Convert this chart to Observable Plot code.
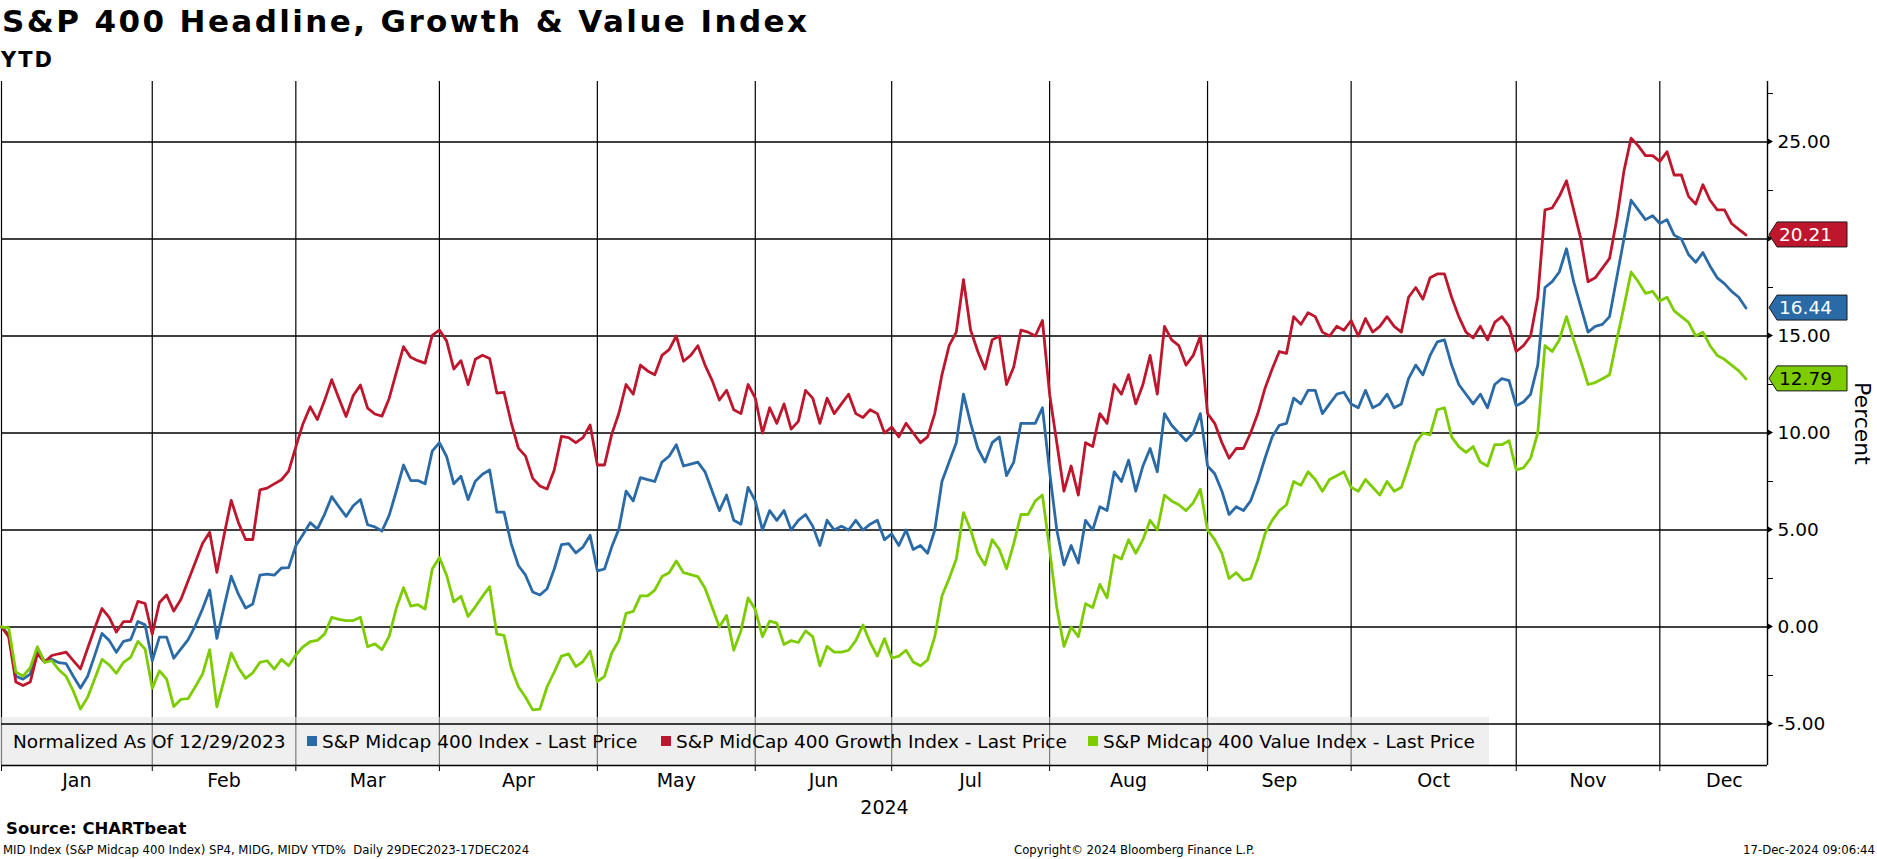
<!DOCTYPE html>
<html><head><meta charset="utf-8">
<script src="https://cdn.jsdelivr.net/npm/d3@7"></script>
<script src="https://cdn.jsdelivr.net/npm/@observablehq/plot@0.6"></script>
<style>
html,body{margin:0;padding:0;background:#fff;}
#chart{position:relative;width:1877px;height:859px;overflow:hidden;font-family:"DejaVu Sans",sans-serif;color:#000;}
.abs{position:absolute;white-space:nowrap;}
.foot{font-size:13px;line-height:13px;top:843px;font-family:"DejaVu Sans Condensed","DejaVu Sans",sans-serif;font-stretch:condensed;}
#plot{position:absolute;left:0;top:60px;}
</style></head><body>
<div id="chart">
  <div class="abs" style="left:2px;top:6px;font-size:31px;font-weight:bold;letter-spacing:2.4px;line-height:31px;">S&amp;P 400 Headline, Growth &amp; Value Index</div>
  <div class="abs" style="left:1px;top:50px;font-size:21px;font-weight:bold;letter-spacing:2px;line-height:21px;">YTD</div>
  <div class="abs" style="left:6px;top:821px;font-size:16.5px;font-weight:bold;line-height:16.5px;">Source: CHARTbeat</div>
  <div class="abs foot" style="left:3px;">MID Index (S&amp;P Midcap 400 Index) SP4, MIDG, MIDV YTD%&nbsp; Daily 29DEC2023-17DEC2024</div>
  <div class="abs foot" style="left:1014px;">Copyright© 2024 Bloomberg Finance L.P.</div>
  <div class="abs foot" style="right:2px;">17-Dec-2024 09:06:44</div>
  <div id="plot"></div>
</div>
<script>
// ---------------- data ----------------
const startDate = "2023-12-29";
const endDate = "2024-12-17";
const holidays = ["2024-01-01","2024-01-15","2024-02-19","2024-03-29","2024-05-27","2024-06-19","2024-07-04","2024-09-02","2024-11-28"];

const seriesNames = ["S&P Midcap 400 Index - Last Price", "S&P MidCap 400 Growth Index - Last Price", "S&P Midcap 400 Value Index - Last Price"];
const seriesColors = ["#2a6aa6", "#be162d", "#7dcc00"];
const tagTextColors = ["#ffffff", "#ffffff", "#000000"];
const legendNote = "Normalized As Of 12/29/2023";

const headline = [
  0, -0.4, -2.54, -2.69, -2.43, -1.13, -1.78, -1.67, -1.84, -1.89, -2.54, -3.15, -2.54, -1.45, -0.33, -0.69, -1.30, -0.74, -0.65, 0.28,
  0.11, -1.74, -0.52, -0.52, -1.61, -1.13, -0.65, 0.07, 0.93, 1.91, -0.59, 1.04, 2.62, 1.69, 0.98, 1.19, 2.67, 2.73, 2.67, 3.04,
  3.06, 4.19, 4.77, 5.38, 5.05, 5.81, 6.72, 6.20, 5.70, 6.25, 6.57, 5.27, 5.16, 4.95, 5.75, 7.01, 8.35, 7.55, 7.55, 7.38,
  9.07, 9.50, 8.79, 7.38, 7.77, 6.57, 7.51, 7.87, 8.09, 5.92, 5.92, 4.30, 3.17, 2.67, 1.80, 1.65, 1.97, 2.99, 4.25, 4.30,
  3.82, 4.12, 4.73, 2.89, 2.99, 4.12, 5.05,
  7.0, 6.5, 7.7, 7.6, 7.5, 8.5, 8.8, 9.4, 8.3, 8.4, 8.5, 8.0, 7.0, 6.0, 6.8, 5.5, 5.3, 7.2, 6.5, 5.0,
  6.0, 5.5, 6.0, 5.0, 5.5, 5.8, 5.2, 4.2, 5.5, 5.0, 5.2, 5.0, 5.5, 5.0, 5.3, 5.5, 4.5, 4.8, 4.2, 5.0,
  4.0, 4.2, 3.8, 5.0, 7.5, 8.5, 9.5, 12.0, 10.5, 9.2, 8.5, 9.5, 9.8, 7.8, 8.5, 10.5, 10.5, 10.5, 11.3,
  8.0, 5.0, 3.2, 4.2, 3.3, 5.5, 5.0, 6.2, 6.0, 8.0, 7.5, 8.6, 7.0, 8.3, 9.2, 8.0, 11.0, 10.4, 10.0, 9.6,
  10.0, 11.0, 8.3, 7.9, 7.0, 5.8, 6.2, 6.0, 6.5, 7.5, 8.7, 9.8, 10.4, 10.5, 11.8, 11.5, 12.2, 12.2, 11.0, 11.5,
  12.0, 12.1, 11.5, 11.3, 12.2, 11.3, 11.5, 12.0, 11.3, 11.5, 12.8, 13.5, 13.0, 14.0, 14.7, 14.8, 13.5, 12.5, 12.0, 11.5,
  12.0, 11.3, 12.5, 12.8, 12.7, 11.4, 11.6, 12.0, 13.5, 17.5, 17.8, 18.3, 19.5, 17.8, 16.5, 15.2, 15.5, 15.6, 16.0, 18.0,
  20.0, 22.0, 21.5, 21.0, 21.2, 20.8, 21.0, 20.2, 20.0, 19.2, 18.8, 19.3, 18.6, 18.0, 17.7, 17.3, 17.0, 16.44
];
const growth = [
  0, -0.5, -2.84, -3.02, -2.84, -1.38, -1.81, -1.47, -1.38, -1.30, -1.73, -2.16, -1.1, -0.05, 0.95, 0.50, -0.26, 0.28, 0.28, 1.32,
  1.21, -0.37, 1.26, 1.65, 0.82, 1.43, 2.39, 3.34, 4.30, 4.88, 2.82, 4.73, 6.53, 5.38, 4.51, 4.51, 7.07, 7.16, 7.38, 7.59,
  8.03, 9.28, 10.48, 11.35, 10.69, 11.67, 12.75, 11.78, 10.85, 11.93, 12.47, 11.28, 10.98, 10.87, 11.78, 13.12, 14.45, 13.90, 13.73, 13.60,
  15.03, 15.31, 14.75, 13.30, 13.73, 12.49, 13.80, 14.01, 13.84, 12.06, 12.10, 10.54, 9.22, 8.81, 7.66, 7.27, 7.11, 8.09, 9.83, 9.76,
  9.50, 9.76, 10.41, 8.35, 8.35, 9.93, 11.02,
  12.5, 12.0, 13.5, 13.2, 13.0, 14.0, 14.3, 15.0, 13.7, 14.0, 14.5, 13.5, 12.7, 11.7, 12.2, 11.2, 11.0, 12.5, 11.8, 10.0,
  11.3, 10.5, 11.5, 10.2, 10.6, 12.2, 11.8, 10.5, 11.8, 11.0, 11.5, 12.0, 11.0, 10.8, 11.2, 11.0, 10.0, 10.3, 9.8, 10.5,
  10.0, 9.5, 9.8, 11.0, 13.0, 14.5, 15.2, 17.9, 15.3, 14.2, 13.3, 14.8, 15.0, 12.5, 13.4, 15.3, 15.2, 15.0, 15.8,
  12.0, 9.5, 7.0, 8.3, 6.8, 9.5, 9.3, 11.0, 10.5, 12.5, 12.0, 13.0, 11.5, 12.5, 14.0, 12.0, 15.5, 14.8, 14.5, 13.5,
  14.0, 15.0, 11.0, 10.5, 9.5, 8.7, 9.2, 9.2, 10.0, 11.0, 12.3, 13.3, 14.2, 14.1, 16.0, 15.6, 16.2, 16.0, 15.2, 15.0,
  15.5, 15.3, 15.8, 15.0, 15.9, 15.2, 15.5, 16.0, 15.5, 15.2, 17.0, 17.5, 16.9, 18.0, 18.2, 18.2, 17.0, 16.0, 15.2, 14.9,
  15.5, 14.8, 15.7, 16.0, 15.5, 14.2, 14.5, 15.0, 17.0, 21.5, 21.6, 22.2, 23.0, 21.5, 20.0, 17.8, 18.0, 18.5, 19.0, 21.0,
  23.5, 25.2, 24.8, 24.3, 24.3, 24.0, 24.5, 23.3, 23.3, 22.2, 21.8, 22.8, 22.0, 21.5, 21.5, 20.8, 20.5, 20.21
];
const value = [
  0, -0.04, -2.32, -2.54, -2.10, -1.02, -1.82, -1.74, -2.21, -2.54, -3.30, -4.23, -3.62, -2.65, -1.67, -1.95, -2.39, -1.82, -1.56, -0.74,
  -1.13, -3.15, -2.26, -2.69, -4.10, -3.73, -3.69, -3.08, -2.43, -1.17, -4.12, -2.75, -1.34, -2.10, -2.65, -2.36, -1.82, -1.74, -2.17, -1.67,
  -2.00, -1.45, -1.02, -0.76, -0.69, -0.37, 0.50, 0.39, 0.33, 0.33, 0.50, -1.02, -0.87, -1.17, -0.48, 0.98, 2.02, 1.08, 1.15, 0.93,
  2.99, 3.58, 2.67, 1.30, 1.58, 0.54, 1.04, 1.58, 2.08, -0.37, -0.43, -2.10, -3.08, -3.62, -4.27, -4.23, -3.08, -2.32, -1.50, -1.39,
  -2.04, -1.78, -1.24, -2.82, -2.54, -1.34, -0.69,
  0.7, 0.8, 1.6, 1.6, 1.9, 2.6, 2.8, 3.4, 2.8, 2.7, 2.6, 2.0, 1.0, 0.0, 0.6, -1.2, -0.2, 1.5, 0.9, -0.5,
  0.3, 0.2, -0.9, -0.7, -0.8, -0.2, -0.5, -2.0, -1.0, -1.3, -1.3, -1.2, -0.7, 0.1, -0.8, -1.5, -0.6, -1.6, -1.5, -1.2,
  -1.8, -2.0, -1.7, -0.5, 1.6, 2.5, 3.5, 5.9, 5.0, 3.8, 3.2, 4.5, 4.0, 3.0, 4.3, 5.8, 5.8, 6.5, 6.8,
  4.0, 1.0, -1.0, 0.0, -0.5, 1.2, 1.0, 2.2, 1.5, 3.7, 3.5, 4.5, 3.8, 4.5, 5.5, 5.0, 6.8, 6.5, 6.3, 6.0,
  6.4, 7.1, 5.0, 4.5, 3.8, 2.5, 2.8, 2.4, 2.5, 3.5, 4.8, 5.5, 6.0, 6.3, 7.5, 7.3, 8.0, 7.6, 7.0, 7.6,
  7.8, 8.0, 7.2, 7.0, 7.6, 7.2, 6.8, 7.5, 7.0, 7.2, 8.3, 9.5, 10.0, 9.9, 11.2, 11.3, 9.8, 9.3, 9.0, 9.3,
  8.5, 8.3, 9.4, 9.4, 9.6, 8.1, 8.2, 8.7, 10.0, 14.5, 14.2, 14.8, 16.0, 14.8, 13.7, 12.5, 12.6, 12.8, 13.0, 14.8,
  16.5, 18.3, 17.8, 17.2, 17.3, 16.8, 17.0, 16.3, 16.0, 15.7, 15.0, 15.2, 14.5, 14.0, 13.8, 13.5, 13.2, 12.79
];

const majorTicks = [-5, 0, 5, 10, 15, 20, 25];
const minorTicks = [-2.5, 2.5, 7.5, 12.5, 17.5, 22.5, 27.5];
const yDomain = [-7.14, 28.12];
const yearLabel = "2024";
const axisTitle = "Percent";

// ---------------- derived ----------------
const parseDay = d3.timeParse("%Y-%m-%d");
const fmtDay = d3.timeFormat("%Y-%m-%d");
const dates = d3.timeDay.range(parseDay(startDate), d3.timeDay.offset(parseDay(endDate), 1))
  .filter(d => d.getDay() % 6 !== 0 && !holidays.includes(fmtDay(d)));
const lastIdx = dates.length - 1;
const xMax = lastIdx + 3;

const allSeries = [headline, growth, value];
const lastValues = allSeries.map(v => v[v.length - 1]);
const rows = allSeries.map((vals, s) => vals.map((v, i) => ({i, date: dates[i], v, s})));

// tick labels hidden behind a value tag are not shown (as in the terminal chart)
const labelTicks = majorTicks.filter(t => !lastValues.some(v => Math.abs(v - t) < 0.7));

// month boundaries: last trading day of each month (index)
const boundaries = [];
for (let i = 0; i < lastIdx; i++) if (dates[i].getMonth() !== dates[i + 1].getMonth()) boundaries.push(i);
const edges = [...boundaries, lastIdx + 6];
const monthLabels = boundaries.map((b, k) => ({pos: (b + edges[k + 1]) / 2, label: d3.timeFormat("%b")(dates[b + 1])}));

const NS = "http://www.w3.org/2000/svg";
function el(tag, attrs) { const e = document.createElementNS(NS, tag); for (const k in attrs) e.setAttribute(k, attrs[k]); return e; }

// legend drawn inside the frame, above vertical grid, below horizontal grid
const legendLayout = {width: 1489, height: 48, noteX: 13, itemX: [307, 661, 1088], fontSize: 18.5};
function legendMark(index, scales, values, dims) {
  const g = el("g", {"font-family": "DejaVu Sans", "font-size": legendLayout.fontSize, "text-anchor": "start"});
  const yb = dims.height - dims.marginBottom;
  const top = yb - legendLayout.height;
  g.appendChild(el("rect", {x: 0, y: top, width: legendLayout.width, height: legendLayout.height, fill: "rgb(226,226,226)", "fill-opacity": 0.55}));
  const cy = top + legendLayout.height / 2;
  const t0 = el("text", {x: legendLayout.noteX, y: cy, dy: "0.36em", fill: "#000", "text-anchor": "start"}); t0.textContent = legendNote; g.appendChild(t0);
  seriesNames.forEach((name, s) => {
    const x = legendLayout.itemX[s];
    g.appendChild(el("rect", {x, y: cy - 5, width: 10, height: 10, fill: seriesColors[s]}));
    const t = el("text", {x: x + 15, y: cy, dy: "0.36em", fill: "#000", "text-anchor": "start"}); t.textContent = name; g.appendChild(t);
  });
  return g;
}

// value tags + tick arrows on right axis
function tagsMark(index, scales, values, dims) {
  const g = el("g", {"font-family": "DejaVu Sans", "font-size": 18.5, "text-anchor": "start"});
  const xr = dims.width - dims.marginRight;
  majorTicks.forEach(t => {
    const y = scales.y(t);
    g.appendChild(el("path", {d: `M${xr},${y - 3.5}L${xr + 6},${y}L${xr},${y + 3.5}Z`, fill: "#000"}));
  });
  lastValues.forEach((v, s) => {
    const y = scales.y(v);
    const h = 12.5;
    g.appendChild(el("path", {d: `M${xr + 2},${y}L${xr + 10},${y - h}L${xr + 80},${y - h}L${xr + 80},${y + h}L${xr + 10},${y + h}Z`, fill: seriesColors[s], stroke: "#1a1a1a", "stroke-width": 1}));
    const t = el("text", {x: xr + 12, y, dy: "0.36em", fill: tagTextColors[s], "text-anchor": "start"}); t.textContent = v.toFixed(2); g.appendChild(t);
  });
  return g;
}

const chart = Plot.plot({
  width: 1877,
  height: 760,
  marginTop: 21,
  marginBottom: 55,
  marginLeft: 1,
  marginRight: 110,
  style: {fontFamily: "DejaVu Sans", fontSize: "19px", background: "transparent", overflow: "visible"},
  x: {type: "linear", domain: [0, xMax], axis: null},
  y: {domain: yDomain, axis: null},
  marks: [
    Plot.ruleX(boundaries, {stroke: "#000", strokeWidth: 1.2}),
    legendMark,
    Plot.ruleY(majorTicks, {stroke: "#000", strokeWidth: 1.4}),
    Plot.ruleX([xMax], {stroke: "#000", strokeWidth: 1.4}),
    Plot.ruleY([yDomain[0]], {stroke: "#000", strokeWidth: 1.4}),
    Plot.axisX(boundaries, {anchor: "bottom", tickSize: 6, tickFormat: () => "", stroke: "#000"}),
    Plot.axisY(minorTicks, {anchor: "right", tickSize: 5, tickFormat: () => "", label: null}),
    Plot.axisY(labelTicks, {anchor: "right", tickSize: 0, tickPadding: 10, tickFormat: d => d.toFixed(2), fontSize: 18.5, label: null}),
    ...rows.map((r, s) => Plot.line(r, {x: "i", y: "v", stroke: seriesColors[s], strokeWidth: 2.8, strokeLinejoin: "round"})),
    tagsMark,
    Plot.text(monthLabels, {x: "pos", text: "label", frameAnchor: "bottom", dy: 21, fontSize: 19}),
    Plot.text([yearLabel], {x: () => xMax / 2, text: d => d, frameAnchor: "bottom", dy: 48, fontSize: 19}),
    Plot.text([axisTitle], {frameAnchor: "right", text: d => d, dx: 95, rotate: 90, textAnchor: "middle", fontSize: 22, letterSpacing: 1})
  ]
});
document.getElementById("plot").appendChild(chart);
</script>
</body></html>
